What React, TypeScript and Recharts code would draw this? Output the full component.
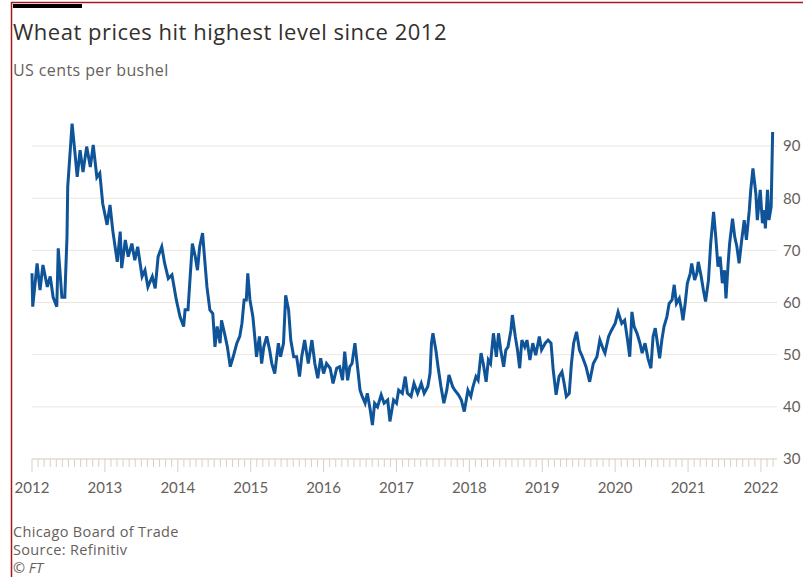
import React from "react";
import { LineChart, Line, XAxis, YAxis, CartesianGrid } from "recharts";

// decimal years
const dates = [
  2012.0, 2012.01, 2012.07, 2012.11, 2012.15, 2012.21, 2012.25, 2012.29, 2012.34, 2012.36,
  2012.41, 2012.45, 2012.48, 2012.49, 2012.55, 2012.59, 2012.62, 2012.66, 2012.7, 2012.75,
  2012.8, 2012.84, 2012.89, 2012.93, 2012.97, 2013.03, 2013.07, 2013.11, 2013.17, 2013.21,
  2013.23, 2013.28, 2013.32, 2013.37, 2013.41, 2013.45, 2013.51, 2013.55, 2013.59, 2013.65,
  2013.69, 2013.73, 2013.78, 2013.82, 2013.87, 2013.92, 2013.98, 2014.03, 2014.08, 2014.1,
  2014.14, 2014.17, 2014.2, 2014.24, 2014.27, 2014.3, 2014.34, 2014.37, 2014.4, 2014.44,
  2014.48, 2014.51, 2014.54, 2014.58, 2014.6, 2014.65, 2014.68, 2014.72, 2014.76, 2014.81,
  2014.85, 2014.88, 2014.91, 2014.94, 2014.96, 2014.99, 2015.03, 2015.06, 2015.08, 2015.12,
  2015.15, 2015.18, 2015.22, 2015.26, 2015.29, 2015.33, 2015.38, 2015.41, 2015.45, 2015.48,
  2015.52, 2015.55, 2015.59, 2015.63, 2015.67, 2015.7, 2015.74, 2015.79, 2015.84, 2015.88,
  2015.92, 2015.96, 2016.0, 2016.04, 2016.09, 2016.13, 2016.18, 2016.22, 2016.26, 2016.29,
  2016.33, 2016.36, 2016.39, 2016.43, 2016.47, 2016.5, 2016.53, 2016.57, 2016.6, 2016.64,
  2016.67, 2016.7, 2016.74, 2016.79, 2016.83, 2016.88, 2016.91, 2016.96, 2017.0, 2017.03,
  2017.08, 2017.12, 2017.15, 2017.2, 2017.24, 2017.29, 2017.34, 2017.38, 2017.43, 2017.46,
  2017.48, 2017.5, 2017.54, 2017.57, 2017.61, 2017.65, 2017.69, 2017.72, 2017.77, 2017.8,
  2017.85, 2017.89, 2017.93, 2017.98, 2018.02, 2018.05, 2018.09, 2018.12, 2018.16, 2018.19,
  2018.23, 2018.26, 2018.29, 2018.33, 2018.37, 2018.4, 2018.43, 2018.47, 2018.5, 2018.53,
  2018.57, 2018.59, 2018.63, 2018.66, 2018.69, 2018.72, 2018.76, 2018.79, 2018.83, 2018.87,
  2018.91, 2018.96, 2018.99, 2019.04, 2019.08, 2019.12, 2019.15, 2019.19, 2019.23, 2019.27,
  2019.3, 2019.33, 2019.37, 2019.4, 2019.43, 2019.47, 2019.51, 2019.55, 2019.6, 2019.65,
  2019.7, 2019.75, 2019.79, 2019.84, 2019.86, 2019.91, 2019.95, 2020.0, 2020.04, 2020.09,
  2020.13, 2020.17, 2020.2, 2020.23, 2020.26, 2020.3, 2020.34, 2020.37, 2020.41, 2020.45,
  2020.49, 2020.52, 2020.55, 2020.58, 2020.61, 2020.64, 2020.67, 2020.71, 2020.74, 2020.78,
  2020.81, 2020.84, 2020.88, 2020.91, 2020.93, 2020.96, 2020.99, 2021.03, 2021.05, 2021.09,
  2021.12, 2021.14, 2021.18, 2021.21, 2021.24, 2021.28, 2021.31, 2021.35, 2021.38, 2021.41,
  2021.44, 2021.47, 2021.5, 2021.52, 2021.55, 2021.57, 2021.61, 2021.64, 2021.67, 2021.7,
  2021.73, 2021.77, 2021.8, 2021.84, 2021.86, 2021.89, 2021.93, 2021.95, 2021.99, 2022.02,
  2022.05, 2022.06, 2022.09, 2022.11, 2022.14, 2022.16,
];

const prices = [
  65.6, 59.2, 67.5, 62.4, 67.2, 63.0, 65.0, 61.0, 59.2, 70.4,
  61.0, 61.0, 72.6, 82.2, 94.3, 88.6, 84.1, 89.2, 85.0, 89.9,
  86.0, 90.2, 84.0, 84.8, 79.0, 74.9, 78.7, 73.6, 67.8, 73.6,
  66.6, 72.0, 68.8, 71.3, 68.1, 70.7, 65.0, 66.2, 63.0, 65.0,
  62.7, 68.8, 70.7, 67.5, 64.6, 65.3, 60.5, 57.3, 55.4, 58.6,
  58.6, 65.0, 71.3, 68.8, 66.2, 70.7, 73.3, 68.1, 63.0, 58.6,
  57.9, 51.5, 55.4, 52.2, 56.6, 53.5, 51.5, 47.7, 49.6, 52.2,
  53.5, 56.0, 60.5, 60.5, 65.6, 60.5, 57.3, 52.8, 49.6, 53.5,
  48.3, 51.5, 53.5, 50.9, 48.3, 46.4, 52.2, 49.6, 52.2, 61.4,
  58.6, 52.8, 49.6, 49.6, 45.8, 49.6, 52.8, 48.3, 52.8, 48.3,
  45.5, 49.3, 46.4, 48.3, 47.4, 44.5, 47.4, 47.7, 45.1, 50.6,
  45.1, 47.7, 48.3, 52.2, 47.1, 43.2, 42.0, 40.7, 42.6, 39.4,
  36.5, 40.7, 40.0, 42.3, 40.7, 41.3, 37.2, 41.3, 40.7, 43.2,
  42.6, 45.8, 42.6, 42.0, 44.5, 42.6, 44.5, 42.6, 43.9, 46.4,
  52.2, 54.1, 50.9, 47.7, 43.9, 40.7, 43.2, 46.1, 43.9, 43.2,
  42.3, 41.3, 39.1, 43.2, 42.0, 43.9, 45.8, 45.1, 50.3, 48.3,
  44.8, 49.0, 48.3, 54.1, 49.6, 54.1, 50.9, 47.7, 50.9, 51.5,
  54.7, 57.6, 53.5, 50.9, 47.4, 52.8, 51.5, 52.8, 49.0, 52.2,
  49.9, 53.5, 50.9, 52.2, 52.8, 52.2, 47.1, 42.3, 45.8, 46.7,
  44.5, 42.0, 42.6, 48.3, 52.2, 54.4, 50.9, 49.6, 47.7, 44.8,
  48.3, 49.6, 52.8, 50.9, 50.3, 53.5, 54.7, 56.0, 58.2, 56.0,
  56.6, 52.8, 49.6, 58.2, 55.4, 54.1, 52.2, 50.3, 52.2, 49.3,
  47.4, 53.5, 55.1, 52.2, 49.3, 52.8, 55.4, 57.3, 59.8, 60.5,
  63.4, 59.8, 60.8, 58.6, 56.6, 59.8, 63.7, 65.6, 67.5, 64.3,
  65.6, 67.8, 65.0, 62.4, 60.2, 64.3, 71.3, 77.4, 72.6, 66.9,
  68.8, 63.7, 66.2, 60.8, 67.5, 71.3, 76.1, 72.6, 70.7, 67.5,
  71.3, 75.8, 72.0, 77.7, 81.6, 85.7, 80.9, 75.8, 81.6, 75.2,
  77.7, 74.2, 81.6, 75.8, 78.4, 92.7,
];

const yearLabels = [2012, 2013, 2014, 2015, 2016, 2017, 2018, 2019, 2020, 2021, 2022];
const priceTicks = [30, 40, 50, 60, 70, 80, 90];

// monthly ticks, last one March 2022
const monthTicks: number[] = [];
yearLabels.forEach((yr) => {
  for (let m = 0; m < 12; m++) {
    const t = yr + m / 12;
    if (t <= 2022.17) monthTicks.push(t);
  }
});

const data = dates.map((d, i) => ({ date: d, price: prices[i] }));

const FONT = "Lato, 'Open Sans', sans-serif";
const HEAD_FONT = "'Open Sans', sans-serif";
const GREY = "#66605c";

function MonthTick(props: any) {
  const { x, y, payload } = props;
  const v = payload.value;
  const isYear = Math.abs(v - Math.round(v)) < 1e-6;
  return (
    <g>
      <line x1={x} x2={x} y1={y} y2={y + (isYear ? 13 : 8)} stroke="#d9d0c7" strokeWidth={1} />
      {isYear && (
        <text x={x} y={y + 34} textAnchor="middle" fill={GREY} fontSize={15} fontFamily={FONT}>
          {Math.round(v)}
        </text>
      )}
    </g>
  );
}

export default function App() {
  return (
    <div
      style={{
        position: "fixed",
        left: 0,
        top: 0,
        width: 803,
        height: 577,
        background: "#fff",
        overflow: "hidden",
      }}
    >
      <LineChart
        width={803}
        height={577}
        data={data}
        margin={{ top: 120, right: 0, bottom: 88, left: 32 }}
      >
        <CartesianGrid vertical={false} syncWithTicks stroke="#ece6e0" />
        <XAxis
          dataKey="date"
          type="number"
          domain={[2012, 2022.22]}
          ticks={monthTicks}
          interval={0}
          height={30}
          tickSize={0}
          tickMargin={0}
          axisLine={{ stroke: "#ddd5cc" }}
          tickLine={false}
          tick={<MonthTick />}
        />
        <YAxis
          orientation="right"
          width={26}
          domain={[30, 95]}
          ticks={priceTicks}
          axisLine={false}
          tickLine={false}
          tickSize={4}
          tickMargin={2}
          tick={{ fill: GREY, fontSize: 15, fontFamily: FONT, textAnchor: "start" }}
        />
        <Line
          dataKey="price"
          type="linear"
          stroke="#0f5499"
          strokeWidth={3}
          dot={false}
          isAnimationActive={false}
        />
      </LineChart>
      <svg
        width={803}
        height={577}
        style={{ position: "absolute", left: 0, top: 0, pointerEvents: "none" }}
      >
        <line x1={11.5} x2={11.5} y1={2} y2={577} stroke="#a3191c" strokeWidth={1.5} />
        <line x1={11} x2={803} y1={2.5} y2={2.5} stroke="#a3191c" strokeWidth={1.5} />
        <rect x={13} y={4} width={69} height={4} fill="#000" />
        <text x={13} y={40} fontSize={22} letterSpacing={0.5} fill="#33302e" fontFamily={HEAD_FONT}>
          Wheat prices hit highest level since 2012
        </text>
        <text x={13} y={76} fontSize={16} letterSpacing={0.4} fill={GREY} fontFamily={HEAD_FONT}>
          US cents per bushel
        </text>
        <text x={13} y={537} fontSize={14.5} letterSpacing={0.35} fill={GREY} fontFamily={HEAD_FONT}>
          Chicago Board of Trade
        </text>
        <text x={13} y={555} fontSize={14.5} letterSpacing={0.35} fill={GREY} fontFamily={HEAD_FONT}>
          Source: Refinitiv
        </text>
        <text x={13} y={573} fontSize={14.5} fill={GREY} fontFamily={HEAD_FONT} fontStyle="italic">
          © FT
        </text>
      </svg>
    </div>
  );
}
